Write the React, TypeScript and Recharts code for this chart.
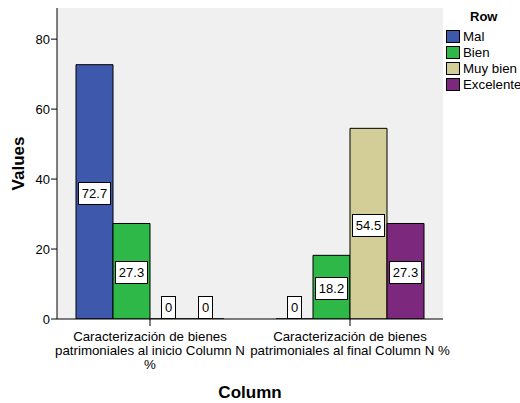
import React from "react";
import {
  BarChart,
  Bar,
  XAxis,
  YAxis,
  CartesianGrid,
  LabelList,
  Label,
} from "recharts";

const CATEGORIES = [
  "Caracterización de bienes patrimoniales al inicio Column N %",
  "Caracterización de bienes patrimoniales al final Column N %",
];
const TICK_LINES = [
  ["Caracterización de bienes", "patrimoniales al inicio Column N", "%"],
  ["Caracterización de bienes", "patrimoniales al final Column N %"],
];
const SERIES = ["Mal", "Bien", "Muy bien", "Excelente"];
const COLORS = ["#3e58ac", "#2eb848", "#d3ce97", "#7c287d"];
const MAL = [72.7, 0];
const BIEN = [27.3, 18.2];
const MUY_BIEN = [0, 54.5];
const EXCELENTE = [0, 27.3];
const Y_TICKS = [0, 20, 40, 60, 80];

const VALUES = [MAL, BIEN, MUY_BIEN, EXCELENTE];
const data = CATEGORIES.map((c, i) => {
  const row: Record<string, any> = { name: c, idx: i };
  SERIES.forEach((s, k) => {
    row[s] = VALUES[k][i];
  });
  return row;
});

const FONT = "'Liberation Sans', Arial, sans-serif";

const ValueBox = (props: any) => {
  const { x, y, width, height, value } = props;
  const num = Array.isArray(value) ? Number(value[1]) : Number(value);
  const txt = String(num);
  const digits = txt.replace(".", "").length;
  const dots = txt.length - digits;
  const w = digits * 7.2 + dots * 3.6 + 7;
  const h = 22;
  const cx = x + width / 2;
  const bottom = Math.max(y, y + height);
  const cy = num === 0 ? bottom - h / 2 - 1 : y + height / 2 + 1;
  return (
    <g>
      <rect
        x={Math.round(cx - w / 2) + 0.5}
        y={Math.round(cy - h / 2) + 0.5}
        width={Math.round(w)}
        height={h}
        fill="#fff"
        stroke="#000"
        strokeWidth={1}
      />
      <text
        x={cx}
        y={cy + 5}
        textAnchor="middle"
        fontSize={13}
        fontFamily={FONT}
        fill="#000"
      >
        {txt}
      </text>
    </g>
  );
};

const CategoryTick = (props: any) => {
  const { x, y, index } = props;
  const lines = TICK_LINES[index] || [];
  return (
    <g>
      {lines.map((l, i) => (
        <text
          key={i}
          x={x}
          y={y + 13 + i * 14}
          textAnchor="middle"
          fontSize={13.3}
          fontFamily={FONT}
          fill="#000"
        >
          {l}
        </text>
      ))}
    </g>
  );
};

export default function App() {
  return (
    <div
      style={{
        position: "absolute",
        left: 0,
        top: 0,
        width: 520,
        height: 403,
        background: "#fff",
        fontFamily: FONT,
        overflow: "hidden",
      }}
    >
      <BarChart
        width={520}
        height={403}
        data={data}
        margin={{ top: 8, right: 77, bottom: 24, left: 0 }}
        barCategoryGap={26}
        barGap={0}
      >
        <CartesianGrid
          fill="#f0f0f0"
          horizontal={false}
          vertical={false}
          stroke="none"
        />
        <XAxis
          dataKey="name"
          height={60}
          padding={{ left: -7, right: -7 }}
          axisLine={{ stroke: "#000" }}
          tickLine={{ stroke: "#000" }}
          tickSize={7}
          tick={<CategoryTick />}
          interval={0}
        >
          <Label
            content={(p: any) => {
              const vb = p.viewBox;
              return (
                <text
                  x={250}
                  y={vb.y + vb.height + 19}
                  textAnchor="middle"
                  fontSize={17}
                  fontWeight="bold"
                  fontFamily={FONT}
                  fill="#000"
                >
                  Column
                </text>
              );
            }}
          />
        </XAxis>
        <XAxis
          xAxisId="top"
          dataKey="name"
          orientation="top"
          height={0}
          tick={false}
          tickLine={false}
          axisLine={{ stroke: "#c8c8c8" }}
        />
        <YAxis
          width={57}
          domain={[0, 88.9]}
          ticks={Y_TICKS}
          axisLine={{ stroke: "#000" }}
          tickLine={{ stroke: "#000" }}
          tickSize={6}
          tickMargin={1}
          tick={{ fontSize: 13, fill: "#000", fontFamily: FONT }}
          allowDataOverflow
        >
          <Label
            content={(p: any) => {
              const vb = p.viewBox;
              const cy = vb.y + vb.height / 2;
              return (
                <text
                  x={24}
                  y={cy}
                  transform={`rotate(-90 24 ${cy})`}
                  textAnchor="middle"
                  fontSize={17}
                  fontWeight="bold"
                  fontFamily={FONT}
                  fill="#000"
                >
                  Values
                </text>
              );
            }}
          />
        </YAxis>
        <YAxis
          yAxisId="right"
          orientation="right"
          width={0}
          tick={false}
          tickLine={false}
          axisLine={{ stroke: "#808080" }}
        />
        {SERIES.map((s, k) => (
          <Bar
            key={s}
            dataKey={s}
            fill={COLORS[k]}
            stroke="#000"
            strokeWidth={1}
            minPointSize={(v: any) => (Number(v) === 0 ? 0.01 : 0)}
            isAnimationActive={false}
          >
            <LabelList dataKey={s} content={<ValueBox />} />
          </Bar>
        ))}
      </BarChart>
      <div
        style={{
          position: "absolute",
          left: 470,
          top: 9,
          fontSize: 13,
          fontWeight: "bold",
        }}
      >
        Row
      </div>
      {SERIES.map((s, k) => (
        <div
          key={s}
          style={{
            position: "absolute",
            left: 446,
            top: 29 + k * 16,
            display: "flex",
            alignItems: "center",
            fontSize: 13.3,
            whiteSpace: "nowrap",
          }}
        >
          <span
            style={{
              width: 12,
              height: 11,
              background: COLORS[k],
              border: "1px solid #000",
              marginRight: 3,
              display: "inline-block",
            }}
          />
          {s}
        </div>
      ))}
    </div>
  );
}
